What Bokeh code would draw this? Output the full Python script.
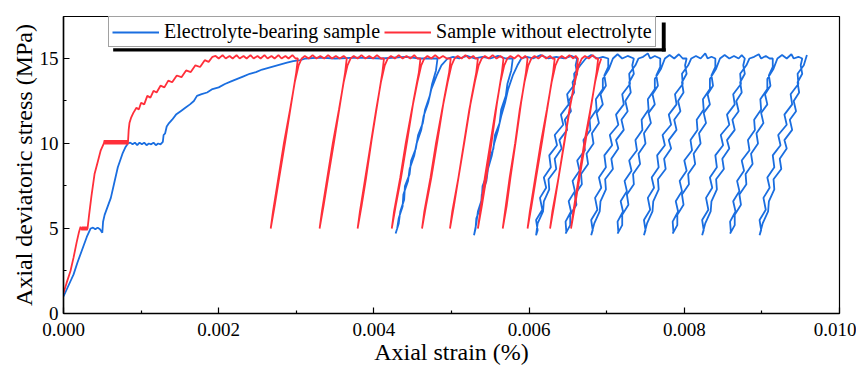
from bokeh.plotting import figure
from bokeh.models import Range1d, FixedTicker, Legend, LegendItem, BoxAnnotation
from bokeh.embed import file_html
from bokeh.resources import INLINE

# ---------------- axis ticks ----------------
x_ticks = [0.000, 0.002, 0.004, 0.006, 0.008, 0.010]
x_tick_labels = ["0.000", "0.002", "0.004", "0.006", "0.008", "0.010"]
x_minor = [0.001, 0.003, 0.005, 0.007, 0.009]
y_ticks = [0, 5, 10, 15]
y_tick_labels = ["0", "5", "10", "15"]
y_minor = [2.5, 7.5, 12.5]

series_names = ["Electrolyte-bearing sample", "Sample without electrolyte"]

# ---------------- Sample without electrolyte (red) ----------------
red_initial_strain = [0.00000, 0.00004, 0.00009, 0.00013, 0.00017, 0.00020, 0.00022, 0.00024, 0.00025, 0.00026,
                      0.00027, 0.00028, 0.00029, 0.00030, 0.00031, 0.00033, 0.00036, 0.00040, 0.00044, 0.00048, 0.00052]
red_initial_stress = [1.2, 1.8, 2.5, 3.3, 4.2, 4.8, 5.1, 4.9, 5.1, 4.9,
                      5.1, 4.9, 5.1, 4.9, 5.0, 5.8, 6.9, 8.2, 8.9, 9.6, 10.0]
red_hold10_strain = [0.00053, 0.00054, 0.00055, 0.00056, 0.00057, 0.00058, 0.00059, 0.00060, 0.00061, 0.00062,
                     0.00063, 0.00064, 0.00065, 0.00066, 0.00067, 0.00068, 0.00069, 0.00070, 0.00071, 0.00072,
                     0.00073, 0.00074, 0.00075, 0.00076, 0.00077, 0.00078, 0.00079, 0.00080, 0.00081, 0.00082]
red_hold10_stress = [10.2, 9.95, 10.2, 9.95, 10.2, 9.95, 10.2, 9.95, 10.2, 9.95,
                     10.2, 9.95, 10.2, 9.95, 10.2, 9.95, 10.2, 9.95, 10.2, 9.95,
                     10.2, 9.95, 10.2, 9.95, 10.2, 9.95, 10.2, 9.95, 10.2, 9.95]
red_rise_strain = [0.00083, 0.00084, 0.00085, 0.00087, 0.00090, 0.00094, 0.00097, 0.00100, 0.00104, 0.00108,
                   0.00112, 0.00116, 0.00120, 0.00125, 0.00130, 0.00135, 0.00140, 0.00146, 0.00152, 0.00158,
                   0.00164, 0.00170, 0.00176, 0.00182, 0.00187, 0.00192]
red_rise_stress = [10.0, 10.8, 11.2, 11.5, 11.8, 12.1, 12.0, 12.4, 12.3, 12.8,
                   12.7, 13.1, 13.0, 13.4, 13.3, 13.7, 13.6, 14.0, 13.9, 14.3,
                   14.2, 14.6, 14.5, 14.9, 14.8, 15.1]

# plateaus at 15 MPa between cycles
red_plateau_strain = [
    [0.00196, 0.00200, 0.00205, 0.00209, 0.00214, 0.00218, 0.00223, 0.00227, 0.00232, 0.00236, 0.00241, 0.00245,
     0.00250, 0.00254, 0.00259, 0.00263, 0.00268, 0.00272, 0.00277, 0.00281, 0.00286, 0.00290, 0.00295, 0.00299],
    [0.00311, 0.00316, 0.00321, 0.00326, 0.00331, 0.00336, 0.00341, 0.00346, 0.00351, 0.00356, 0.00361],
    [0.00374, 0.00379, 0.00384, 0.00389, 0.00394, 0.00399, 0.00404, 0.00409],
    [0.00422, 0.00427, 0.00432, 0.00437, 0.00442, 0.00447, 0.00452, 0.00456],
    [0.00469, 0.00474, 0.00479, 0.00484, 0.00489, 0.00494],
    [0.00508, 0.00513, 0.00518, 0.00523, 0.00528, 0.00531],
    [0.00543, 0.00548, 0.00553, 0.00558, 0.00563],
    [0.00576, 0.00581, 0.00586, 0.00591, 0.00595],
    [0.00607, 0.00612, 0.00617, 0.00622, 0.00627, 0.00630],
    [0.00642, 0.00647, 0.00652, 0.00657, 0.00660],
    [0.00672, 0.00677, 0.00682, 0.00686],
]
red_plateau_stress = [
    [15.15, 15.0, 15.2, 15.0, 15.15, 15.0, 15.2, 15.0, 15.15, 15.0, 15.2, 15.0,
     15.15, 15.0, 15.2, 15.0, 15.15, 15.0, 15.2, 15.0, 15.15, 15.0, 15.2, 15.0],
    [15.15, 15.0, 15.2, 15.0, 15.15, 15.0, 15.2, 15.0, 15.15, 15.0, 15.15],
    [15.15, 15.0, 15.2, 15.0, 15.15, 15.0, 15.2, 15.0],
    [15.15, 15.0, 15.2, 15.0, 15.15, 15.0, 15.2, 15.0],
    [15.15, 15.0, 15.2, 15.0, 15.15, 15.0],
    [15.15, 15.0, 15.2, 15.0, 15.15, 15.0],
    [15.15, 15.0, 15.2, 15.0, 15.15],
    [15.15, 15.0, 15.2, 15.0, 15.15],
    [15.15, 15.0, 15.2, 15.0, 15.15, 15.0],
    [15.15, 15.0, 15.2, 15.0, 15.15],
    [15.15, 15.0, 15.2, 15.0],
]
# unloading 15 -> 5 then reloading 5 -> 15
red_cycle_strain = [
    [0.00302, 0.00300, 0.00294, 0.00286, 0.00278, 0.00272, 0.00267, 0.00270, 0.00277, 0.00284, 0.00292, 0.00298, 0.00303, 0.00307],
    [0.00365, 0.00363, 0.00357, 0.00349, 0.00341, 0.00335, 0.00330, 0.00333, 0.00340, 0.00347, 0.00355, 0.00361, 0.00366, 0.00370],
    [0.00413, 0.00411, 0.00405, 0.00397, 0.00390, 0.00384, 0.00379, 0.00382, 0.00389, 0.00396, 0.00403, 0.00409, 0.00414, 0.00418],
    [0.00460, 0.00458, 0.00451, 0.00443, 0.00435, 0.00428, 0.00423, 0.00426, 0.00434, 0.00441, 0.00449, 0.00456, 0.00461, 0.00465],
    [0.00499, 0.00497, 0.00490, 0.00482, 0.00474, 0.00467, 0.00462, 0.00465, 0.00473, 0.00480, 0.00488, 0.00495, 0.00500, 0.00504],
    [0.00534, 0.00532, 0.00525, 0.00517, 0.00509, 0.00503, 0.00498, 0.00501, 0.00509, 0.00516, 0.00523, 0.00530, 0.00535, 0.00539],
    [0.00567, 0.00565, 0.00559, 0.00552, 0.00545, 0.00539, 0.00534, 0.00537, 0.00543, 0.00550, 0.00557, 0.00563, 0.00568, 0.00572],
    [0.00598, 0.00596, 0.00590, 0.00583, 0.00576, 0.00571, 0.00566, 0.00569, 0.00575, 0.00582, 0.00588, 0.00594, 0.00599, 0.00603],
    [0.00633, 0.00631, 0.00625, 0.00617, 0.00609, 0.00603, 0.00598, 0.00601, 0.00608, 0.00615, 0.00623, 0.00629, 0.00634, 0.00638],
    [0.00663, 0.00661, 0.00654, 0.00646, 0.00638, 0.00632, 0.00627, 0.00630, 0.00638, 0.00645, 0.00652, 0.00659, 0.00664, 0.00668],
    [0.00689, 0.00687, 0.00681, 0.00673, 0.00665, 0.00659, 0.00654, 0.00657, 0.00664, 0.00671, 0.00679, 0.00685, 0.00690, 0.00693],
]
red_cycle_stress = [15.0, 14.2, 12.5, 10.2, 8.0, 6.3, 5.0, 6.0, 8.0, 10.0, 12.0, 13.6, 14.6, 15.0]

# ---------------- Electrolyte-bearing sample (blue) ----------------
blue_initial_strain = [0.00000, 0.00005, 0.00010, 0.00013, 0.00018, 0.00022, 0.00026, 0.00030, 0.00035, 0.00038,
                       0.00041, 0.00044, 0.00047, 0.00050, 0.00051, 0.00053, 0.00057, 0.00061, 0.00065, 0.00070,
                       0.00073, 0.00076, 0.00080, 0.00083]
blue_initial_stress = [1.0, 1.5, 2.0, 2.3, 3.0, 3.5, 4.0, 4.5, 5.0, 5.05,
                       4.95, 5.05, 4.95, 4.75, 5.4, 5.8, 6.3, 6.8, 7.6, 8.6,
                       9.0, 9.4, 9.8, 10.0]
blue_hold10_strain = [0.00086, 0.00089, 0.00092, 0.00095, 0.00098, 0.00101, 0.00104, 0.00107, 0.00110, 0.00113,
                      0.00116, 0.00119, 0.00122, 0.00125, 0.00128]
blue_hold10_stress = [10.05, 9.95, 10.05, 9.9, 10.05, 9.95, 10.05, 9.9, 10.0, 9.95,
                      10.05, 9.9, 10.0, 9.95, 10.1]
blue_rise_strain = [0.00129, 0.00131, 0.00133, 0.00136, 0.00140, 0.00145, 0.00151, 0.00157, 0.00163, 0.00168,
                    0.00172, 0.00178, 0.00185, 0.00192, 0.00200, 0.00208, 0.00216, 0.00224, 0.00232, 0.00240,
                    0.00248, 0.00256, 0.00264, 0.00272, 0.00280, 0.00288, 0.00296, 0.00305, 0.00312]
blue_rise_stress = [10.5, 10.6, 11.0, 11.2, 11.4, 11.7, 11.9, 12.1, 12.3, 12.5,
                    12.8, 12.9, 13.0, 13.2, 13.3, 13.5, 13.65, 13.8, 13.95, 14.1,
                    14.2, 14.35, 14.45, 14.55, 14.65, 14.75, 14.85, 14.9, 15.0]
blue_plateau_strain = [
    [0.00330, 0.00350, 0.00380, 0.00410, 0.00440, 0.00460],
    [0.00502, 0.00510, 0.00520, 0.00530, 0.00540, 0.00550, 0.00560, 0.00570],
    [0.00597, 0.00605, 0.00615, 0.00625, 0.00635, 0.00645, 0.00655],
    [0.00680, 0.00688, 0.00695],
    [0.00714, 0.00720, 0.00727],
    [0.00747, 0.00753, 0.00756, 0.00762],
    [0.00781, 0.00787, 0.00793, 0.00798],
    [0.00815, 0.00821, 0.00827, 0.00830, 0.00835],
    [0.00852, 0.00858, 0.00864, 0.00870, 0.00874],
    [0.00890, 0.00896, 0.00899, 0.00905, 0.00910],
    [0.00926, 0.00932, 0.00938, 0.00941, 0.00947],
]
blue_plateau_stress = [
    [15.05, 15.0, 15.05, 15.0, 15.1, 15.0],
    [15.1, 15.0, 15.15, 15.0, 15.1, 15.0, 15.15, 15.0],
    [15.1, 15.0, 15.2, 15.0, 15.1, 15.0, 15.15],
    [15.2, 15.0, 15.1],
    [15.25, 15.0, 15.15],
    [15.1, 15.3, 15.0, 15.15],
    [15.2, 15.0, 15.25, 15.0],
    [15.15, 15.0, 15.3, 15.0, 15.1],
    [15.2, 15.0, 15.15, 15.0, 15.2],
    [15.1, 15.25, 15.0, 15.15, 15.0],
    [15.2, 15.0, 15.25, 15.0, 15.1],
]
blue_cycle_strain = [
    [0.00482, 0.00480, 0.00475, 0.00472, 0.00466, 0.00463, 0.00457, 0.00454, 0.00448, 0.00446, 0.00440, 0.00439, 0.00434, 0.00432, 0.00428,
     0.00430, 0.00432, 0.00437, 0.00438, 0.00444, 0.00446, 0.00452, 0.00455, 0.00461, 0.00464, 0.00470, 0.00474, 0.00481, 0.00487, 0.00495],
    [0.00579, 0.00577, 0.00572, 0.00570, 0.00564, 0.00562, 0.00556, 0.00554, 0.00548, 0.00546, 0.00540, 0.00539, 0.00534, 0.00532, 0.00529,
     0.00531, 0.00532, 0.00538, 0.00539, 0.00545, 0.00547, 0.00552, 0.00555, 0.00560, 0.00564, 0.00569, 0.00573, 0.00579, 0.00585, 0.00590],
    [0.00662, 0.00660, 0.00662, 0.00656, 0.00658, 0.00651, 0.00654, 0.00646, 0.00649, 0.00639, 0.00642, 0.00633, 0.00635, 0.00625, 0.00626, 0.00619, 0.00618, 0.00611, 0.00609,
     0.00611, 0.00609, 0.00617, 0.00614, 0.00622, 0.00619, 0.00628, 0.00626, 0.00636, 0.00633, 0.00644, 0.00641, 0.00651, 0.00649, 0.00659, 0.00658, 0.00666, 0.00673],
    [0.00702, 0.00702, 0.00697, 0.00699, 0.00692, 0.00695, 0.00687, 0.00690, 0.00681, 0.00683, 0.00674, 0.00676, 0.00667, 0.00668, 0.00659, 0.00661, 0.00653, 0.00653, 0.00647,
     0.00648, 0.00647, 0.00654, 0.00651, 0.00659, 0.00656, 0.00665, 0.00662, 0.00672, 0.00670, 0.00679, 0.00678, 0.00687, 0.00686, 0.00695, 0.00695, 0.00703, 0.00708],
    [0.00735, 0.00733, 0.00735, 0.00729, 0.00731, 0.00724, 0.00727, 0.00719, 0.00722, 0.00712, 0.00715, 0.00706, 0.00708, 0.00698, 0.00699, 0.00692, 0.00691, 0.00684, 0.00680,
     0.00682, 0.00680, 0.00688, 0.00685, 0.00693, 0.00690, 0.00699, 0.00697, 0.00707, 0.00704, 0.00715, 0.00712, 0.00722, 0.00720, 0.00730, 0.00729, 0.00737, 0.00741],
    [0.00769, 0.00769, 0.00764, 0.00766, 0.00759, 0.00762, 0.00754, 0.00757, 0.00748, 0.00750, 0.00741, 0.00743, 0.00734, 0.00735, 0.00726, 0.00728, 0.00720, 0.00720, 0.00714,
     0.00715, 0.00714, 0.00721, 0.00718, 0.00726, 0.00723, 0.00732, 0.00729, 0.00739, 0.00737, 0.00746, 0.00745, 0.00754, 0.00753, 0.00762, 0.00762, 0.00770, 0.00775],
    [0.00803, 0.00801, 0.00803, 0.00797, 0.00799, 0.00792, 0.00795, 0.00787, 0.00790, 0.00780, 0.00783, 0.00774, 0.00776, 0.00766, 0.00767, 0.00760, 0.00759, 0.00752, 0.00748,
     0.00750, 0.00748, 0.00756, 0.00753, 0.00761, 0.00758, 0.00767, 0.00765, 0.00775, 0.00772, 0.00783, 0.00780, 0.00790, 0.00788, 0.00798, 0.00797, 0.00805, 0.00809],
    [0.00840, 0.00840, 0.00835, 0.00837, 0.00830, 0.00833, 0.00825, 0.00828, 0.00819, 0.00821, 0.00812, 0.00814, 0.00805, 0.00806, 0.00797, 0.00799, 0.00791, 0.00791, 0.00785,
     0.00786, 0.00785, 0.00792, 0.00789, 0.00797, 0.00794, 0.00803, 0.00800, 0.00810, 0.00808, 0.00817, 0.00816, 0.00825, 0.00824, 0.00833, 0.00833, 0.00841, 0.00846],
    [0.00878, 0.00876, 0.00878, 0.00872, 0.00874, 0.00867, 0.00870, 0.00862, 0.00865, 0.00855, 0.00858, 0.00849, 0.00851, 0.00841, 0.00842, 0.00835, 0.00834, 0.00827, 0.00823,
     0.00825, 0.00823, 0.00831, 0.00828, 0.00836, 0.00833, 0.00842, 0.00840, 0.00850, 0.00847, 0.00858, 0.00855, 0.00865, 0.00863, 0.00873, 0.00872, 0.00880, 0.00884],
    [0.00914, 0.00914, 0.00909, 0.00911, 0.00904, 0.00907, 0.00899, 0.00902, 0.00893, 0.00895, 0.00886, 0.00888, 0.00879, 0.00880, 0.00871, 0.00873, 0.00865, 0.00865, 0.00859,
     0.00860, 0.00859, 0.00866, 0.00863, 0.00871, 0.00868, 0.00877, 0.00874, 0.00884, 0.00882, 0.00891, 0.00890, 0.00899, 0.00898, 0.00907, 0.00907, 0.00915, 0.00920],
    [0.00952, 0.00950, 0.00952, 0.00946, 0.00948, 0.00941, 0.00944, 0.00936, 0.00939, 0.00929, 0.00932, 0.00923, 0.00925, 0.00915, 0.00916, 0.00909, 0.00908, 0.00901, 0.00897,
     0.00899, 0.00897, 0.00905, 0.00902, 0.00910, 0.00907, 0.00916, 0.00914, 0.00924, 0.00921, 0.00932, 0.00929, 0.00939, 0.00937, 0.00947, 0.00946, 0.00954, 0.00958],
]
blue_cycle_stress = [
    [15.0, 14.3, 13.5, 12.8, 12.0, 11.2, 10.5, 9.7, 9.0, 8.2, 7.5, 6.7, 6.0, 5.3, 4.7,
     5.0, 5.6, 6.3, 7.0, 7.8, 8.5, 9.3, 10.0, 10.8, 11.6, 12.4, 13.2, 14.0, 14.6, 15.0],
    [15.0, 14.3, 13.5, 12.8, 12.0, 11.2, 10.5, 9.7, 9.0, 8.2, 7.5, 6.7, 6.0, 5.3, 4.6,
     5.0, 5.6, 6.3, 7.0, 7.8, 8.5, 9.3, 10.0, 10.8, 11.6, 12.4, 13.2, 14.0, 14.6, 15.0],
    [15.0, 14.6, 14.1, 13.6, 13.0, 12.5, 11.9, 11.4, 10.8, 10.2, 9.7, 9.1, 8.5, 7.9, 7.3, 6.6, 6.0, 5.3, 4.6,
     4.9, 5.5, 6.1, 6.8, 7.4, 8.0, 8.6, 9.3, 9.9, 10.5, 11.1, 11.7, 12.3, 12.9, 13.5, 14.1, 14.6, 15.0],
    [15.0, 14.5, 14.0, 13.4, 12.9, 12.3, 11.8, 11.2, 10.6, 10.0, 9.4, 8.8, 8.2, 7.6, 7.0, 6.4, 5.8, 5.2, 4.7,
     4.8, 5.4, 6.0, 6.6, 7.2, 7.8, 8.4, 9.0, 9.6, 10.2, 10.8, 11.4, 12.0, 12.6, 13.2, 13.8, 14.4, 15.0],
    [15.0, 14.6, 14.1, 13.6, 13.0, 12.5, 11.9, 11.4, 10.8, 10.2, 9.7, 9.1, 8.5, 7.9, 7.3, 6.6, 6.0, 5.3, 4.6,
     4.9, 5.5, 6.1, 6.8, 7.4, 8.0, 8.6, 9.3, 9.9, 10.5, 11.1, 11.7, 12.3, 12.9, 13.5, 14.1, 14.6, 15.0],
    [15.0, 14.5, 14.0, 13.4, 12.9, 12.3, 11.8, 11.2, 10.6, 10.0, 9.4, 8.8, 8.2, 7.6, 7.0, 6.4, 5.8, 5.2, 4.7,
     4.8, 5.4, 6.0, 6.6, 7.2, 7.8, 8.4, 9.0, 9.6, 10.2, 10.8, 11.4, 12.0, 12.6, 13.2, 13.8, 14.4, 15.0],
    [15.0, 14.6, 14.1, 13.6, 13.0, 12.5, 11.9, 11.4, 10.8, 10.2, 9.7, 9.1, 8.5, 7.9, 7.3, 6.6, 6.0, 5.3, 4.6,
     4.9, 5.5, 6.1, 6.8, 7.4, 8.0, 8.6, 9.3, 9.9, 10.5, 11.1, 11.7, 12.3, 12.9, 13.5, 14.1, 14.6, 15.0],
    [15.0, 14.5, 14.0, 13.4, 12.9, 12.3, 11.8, 11.2, 10.6, 10.0, 9.4, 8.8, 8.2, 7.6, 7.0, 6.4, 5.8, 5.2, 4.7,
     4.8, 5.4, 6.0, 6.6, 7.2, 7.8, 8.4, 9.0, 9.6, 10.2, 10.8, 11.4, 12.0, 12.6, 13.2, 13.8, 14.4, 15.0],
    [15.0, 14.6, 14.1, 13.6, 13.0, 12.5, 11.9, 11.4, 10.8, 10.2, 9.7, 9.1, 8.5, 7.9, 7.3, 6.6, 6.0, 5.3, 4.6,
     4.9, 5.5, 6.1, 6.8, 7.4, 8.0, 8.6, 9.3, 9.9, 10.5, 11.1, 11.7, 12.3, 12.9, 13.5, 14.1, 14.6, 15.0],
    [15.0, 14.5, 14.0, 13.4, 12.9, 12.3, 11.8, 11.2, 10.6, 10.0, 9.4, 8.8, 8.2, 7.6, 7.0, 6.4, 5.8, 5.2, 4.7,
     4.8, 5.4, 6.0, 6.6, 7.2, 7.8, 8.4, 9.0, 9.6, 10.2, 10.8, 11.4, 12.0, 12.6, 13.2, 13.8, 14.4, 15.0],
    [15.0, 14.6, 14.1, 13.6, 13.0, 12.5, 11.9, 11.4, 10.8, 10.2, 9.7, 9.1, 8.5, 7.9, 7.3, 6.6, 6.0, 5.3, 4.6,
     4.9, 5.5, 6.1, 6.8, 7.4, 8.0, 8.6, 9.3, 9.9, 10.5, 11.1, 11.7, 12.3, 12.9, 13.5, 14.1, 14.6, 15.2],
]

# ---------------- assemble the two paths ----------------
red_x = red_initial_strain + red_hold10_strain + red_rise_strain
red_y = red_initial_stress + red_hold10_stress + red_rise_stress
for i in range(len(red_cycle_strain)):
    red_x += red_plateau_strain[i] + red_cycle_strain[i]
    red_y += red_plateau_stress[i] + red_cycle_stress

blue_x = blue_initial_strain + blue_hold10_strain + blue_rise_strain
blue_y = blue_initial_stress + blue_hold10_stress + blue_rise_stress
for i in range(len(blue_cycle_strain)):
    blue_x += blue_plateau_strain[i] + blue_cycle_strain[i]
    blue_y += blue_plateau_stress[i] + blue_cycle_stress[i]

SERIF = "Liberation Serif"
BLUE = "#1a6ee0"
RED = "#ff2f3a"

p = figure(width=856, height=368, output_backend="svg", toolbar_location=None,
           x_range=Range1d(0, 0.010), y_range=Range1d(0, 17.47),
           min_border_left=63, min_border_right=17, min_border_top=16, min_border_bottom=55)
p.background_fill_color = "white"
p.border_fill_color = "white"
p.outline_line_color = "black"
p.outline_line_width = 1.2
p.grid.visible = False

blue_r = p.line(blue_x, blue_y, line_color=BLUE, line_width=1.8)
red_r = p.line(red_x, red_y, line_color=RED, line_width=1.8)

p.xaxis.ticker = FixedTicker(ticks=x_ticks, minor_ticks=x_minor)
p.xaxis.major_label_overrides = dict(zip(x_ticks, x_tick_labels))
p.yaxis.ticker = FixedTicker(ticks=y_ticks, minor_ticks=y_minor)
p.yaxis.major_label_overrides = dict(zip(y_ticks, y_tick_labels))

for ax in (p.xaxis[0], p.yaxis[0]):
    ax.axis_line_color = "black"
    ax.axis_line_width = 1.5
    ax.major_tick_in = 6
    ax.major_tick_out = 0
    ax.minor_tick_in = 3
    ax.minor_tick_out = 0
    ax.major_tick_line_width = 1.2
    ax.minor_tick_line_width = 1.2
    ax.major_label_text_font = SERIF
    ax.major_label_text_font_size = "19px"
    ax.major_label_text_color = "black"
    ax.axis_label_text_font = SERIF
    ax.axis_label_text_font_size = "24px"
    ax.axis_label_text_font_style = "normal"
    ax.axis_label_text_color = "black"

p.xaxis.axis_label = "Axial strain (%)"
p.yaxis.axis_label = "Axial deviatoric stress (MPa)"
p.xaxis.major_label_standoff = 9
p.xaxis.axis_label_standoff = 0
p.yaxis.major_label_standoff = 5
p.yaxis.axis_label_standoff = 0

# legend shadow (drawn behind the legend box)
p.add_layout(BoxAnnotation(left=0.00064, right=0.00776, bottom=15.41, top=15.60,
                           fill_color="black", fill_alpha=1, line_alpha=0))
p.add_layout(BoxAnnotation(left=0.00771, right=0.00776, bottom=15.41, top=17.12,
                           fill_color="black", fill_alpha=1, line_alpha=0))

legend = Legend(items=[LegendItem(label=series_names[0], renderers=[blue_r]),
                       LegendItem(label=series_names[1], renderers=[red_r])],
                location=(45, 266), orientation="horizontal",
                label_text_font=SERIF, label_text_font_size="20px", label_text_color="black",
                glyph_width=47, glyph_height=22, label_height=22, label_standoff=5,
                spacing=4, padding=3, margin=0,
                border_line_color="#444444", border_line_width=1,
                background_fill_color="white", background_fill_alpha=1)
p.add_layout(legend)

open("out.html", "w").write(file_html(p, INLINE))
